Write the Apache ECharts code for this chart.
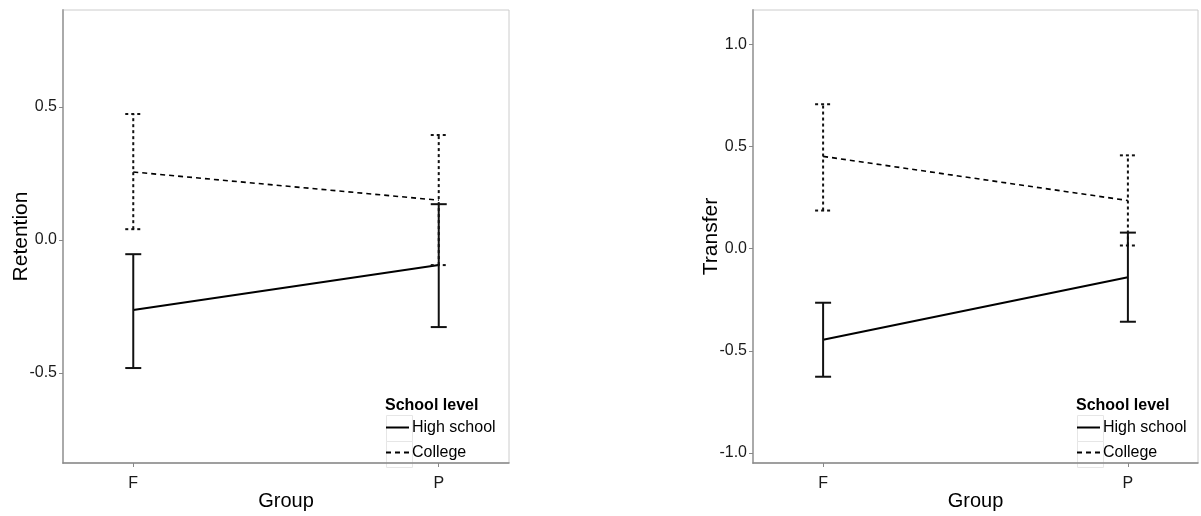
<!DOCTYPE html>
<html>
<head>
<meta charset="utf-8">
<script src="https://cdn.jsdelivr.net/npm/echarts@6/dist/echarts.min.js"></script>
<style>
html,body{margin:0;padding:0;background:#fff;}
#chart{width:1201px;height:516px;}
</style>
</head>
<body>
<div id="chart"></div>
<script>
// ---- data ----
const categories = ['F', 'P'];
const seriesNames = ['High school', 'College'];

const retentionHS = [-0.263, -0.094];
const retentionHSLow = [-0.481, -0.327];
const retentionHSHigh = [-0.053, 0.135];
const retentionCol = [0.256, 0.150];
const retentionColLow = [0.041, -0.094];
const retentionColHigh = [0.474, 0.395];

const transferHS = [-0.446, -0.140];
const transferHSLow = [-0.627, -0.358];
const transferHSHigh = [-0.265, 0.078];
const transferCol = [0.451, 0.235];
const transferColLow = [0.186, 0.015];
const transferColHigh = [0.706, 0.456];

const retentionTicks = [-0.5, 0.0, 0.5];
const transferTicks = [-1.0, -0.5, 0.0, 0.5, 1.0];

// ---- helpers ----
const xPos = categories.map((c, i) => i + 1);
function pts(vals) { return vals.map((v, i) => [xPos[i], v]); }
function bars(lo, hi) { return lo.map((l, i) => [xPos[i], l, hi[i]]); }

function makeErrRender(dashed) {
  return function (params, api) {
    const x = api.value(0);
    const lo = api.coord([x, api.value(1)]);
    const hi = api.coord([x, api.value(2)]);
    const half = 8;
    const style = { stroke: '#111', lineWidth: 2, lineDash: dashed ? [3, 3] : null, fill: null };
    return {
      type: 'group',
      children: [
        { type: 'line', shape: { x1: lo[0], y1: lo[1], x2: hi[0], y2: hi[1] }, style: style },
        { type: 'line', shape: { x1: lo[0] - half, y1: lo[1], x2: lo[0] + half, y2: lo[1] }, style: style },
        { type: 'line', shape: { x1: hi[0] - half, y1: hi[1], x2: hi[0] + half, y2: hi[1] }, style: style }
      ]
    };
  };
}

const font = 'Liberation Sans, Arial, sans-serif';

function xAxisCfg(idx) {
  return {
    gridIndex: idx, type: 'value', min: 0.77, max: 2.23,
    name: 'Group', nameLocation: 'middle', nameGap: 28, nameMoveOverlap: false,
    nameTextStyle: { fontSize: 20, color: '#000', fontFamily: font },
    axisLine: { show: true, onZero: false, lineStyle: { color: '#888', width: 1.5 } },
    axisTick: { show: true, length: 4, lineStyle: { color: '#888' }, customValues: xPos },
    axisLabel: { fontSize: 16, color: '#1a1a1a', fontFamily: font, margin: 13, customValues: xPos,
      formatter: v => categories[Math.round(v) - 1] || '' },
    splitLine: { show: false }
  };
}
function yAxisCfg(idx, name, min, max, ticks) {
  return {
    gridIndex: idx, type: 'value', min: min, max: max,
    name: name, nameLocation: 'middle', nameGap: 31, nameMoveOverlap: false,
    nameTextStyle: { fontSize: 21, color: '#000', fontFamily: font },
    axisLine: { show: true, onZero: false, lineStyle: { color: '#aaa', width: 2 } },
    axisTick: { show: true, length: 4, lineStyle: { color: '#888' }, customValues: ticks },
    axisLabel: { fontSize: 16, color: '#1a1a1a', fontFamily: font, margin: 6, customValues: ticks,
      formatter: v => v.toFixed(1) },
    splitLine: { show: false }
  };
}

function lineSeries(name, idx, vals, dashed) {
  return {
    name: name, type: 'line', xAxisIndex: idx, yAxisIndex: idx,
    data: pts(vals), symbol: 'none', showSymbol: false, silent: true, z: 3,
    lineStyle: { color: '#000', width: dashed ? 1.6 : 2, type: dashed ? [5, 4] : 'solid' },
    itemStyle: { color: '#000' }
  };
}
function errSeries(name, idx, lo, hi, dashed) {
  return {
    name: name, type: 'custom', xAxisIndex: idx, yAxisIndex: idx,
    data: bars(lo, hi), renderItem: makeErrRender(dashed), silent: true, z: 4,
    encode: { x: 0, y: [1, 2] }
  };
}

function legendCfg(left) {
  return {
    data: seriesNames, orient: 'vertical', left: left, top: 419, padding: 0,
    itemWidth: 23, itemHeight: 14, itemGap: 8, selectedMode: false,
    itemStyle: { opacity: 0 },
    textStyle: { fontSize: 16, color: '#000', fontFamily: font, lineHeight: 17, padding: [0, 0, 0, -2] }
  };
}

function keyBoxes(left) {
  return [0, 1].map(i => ({
    type: 'rect', left: left - 1, top: 413 + i * 26,
    shape: { width: 26, height: 26 },
    style: { fill: 'none', stroke: '#e6e6e6', lineWidth: 1 }, z: -1
  }));
}

const chart = echarts.init(document.getElementById('chart'), null, { renderer: 'canvas' });
chart.setOption({
  animation: false,
  backgroundColor: '#fff',
  grid: [
    { left: 63, top: 10, width: 446, height: 453, show: true, borderColor: '#ccc', borderWidth: 1, containLabel: false },
    { left: 753, top: 10, width: 445, height: 453, show: true, borderColor: '#ccc', borderWidth: 1, containLabel: false }
  ],
  xAxis: [xAxisCfg(0), xAxisCfg(1)],
  yAxis: [
    yAxisCfg(0, 'Retention', -0.838, 0.865, retentionTicks),
    yAxisCfg(1, 'Transfer', -1.049, 1.167, transferTicks)
  ],
  title: [
    { text: 'School level', left: 385, top: 398, padding: 0,
      textStyle: { fontSize: 16, fontWeight: 'bold', color: '#000', fontFamily: font } },
    { text: 'School level', left: 1076, top: 398, padding: 0,
      textStyle: { fontSize: 16, fontWeight: 'bold', color: '#000', fontFamily: font } }
  ],
  legend: [legendCfg(385), legendCfg(1076)],
  graphic: keyBoxes(385).concat(keyBoxes(1076)),
  series: [
    lineSeries(seriesNames[0], 0, retentionHS, false),
    lineSeries(seriesNames[1], 0, retentionCol, true),
    errSeries(seriesNames[0], 0, retentionHSLow, retentionHSHigh, false),
    errSeries(seriesNames[1], 0, retentionColLow, retentionColHigh, true),
    lineSeries(seriesNames[0], 1, transferHS, false),
    lineSeries(seriesNames[1], 1, transferCol, true),
    errSeries(seriesNames[0], 1, transferHSLow, transferHSHigh, false),
    errSeries(seriesNames[1], 1, transferColLow, transferColHigh, true)
  ]
});
</script>
</body>
</html>
